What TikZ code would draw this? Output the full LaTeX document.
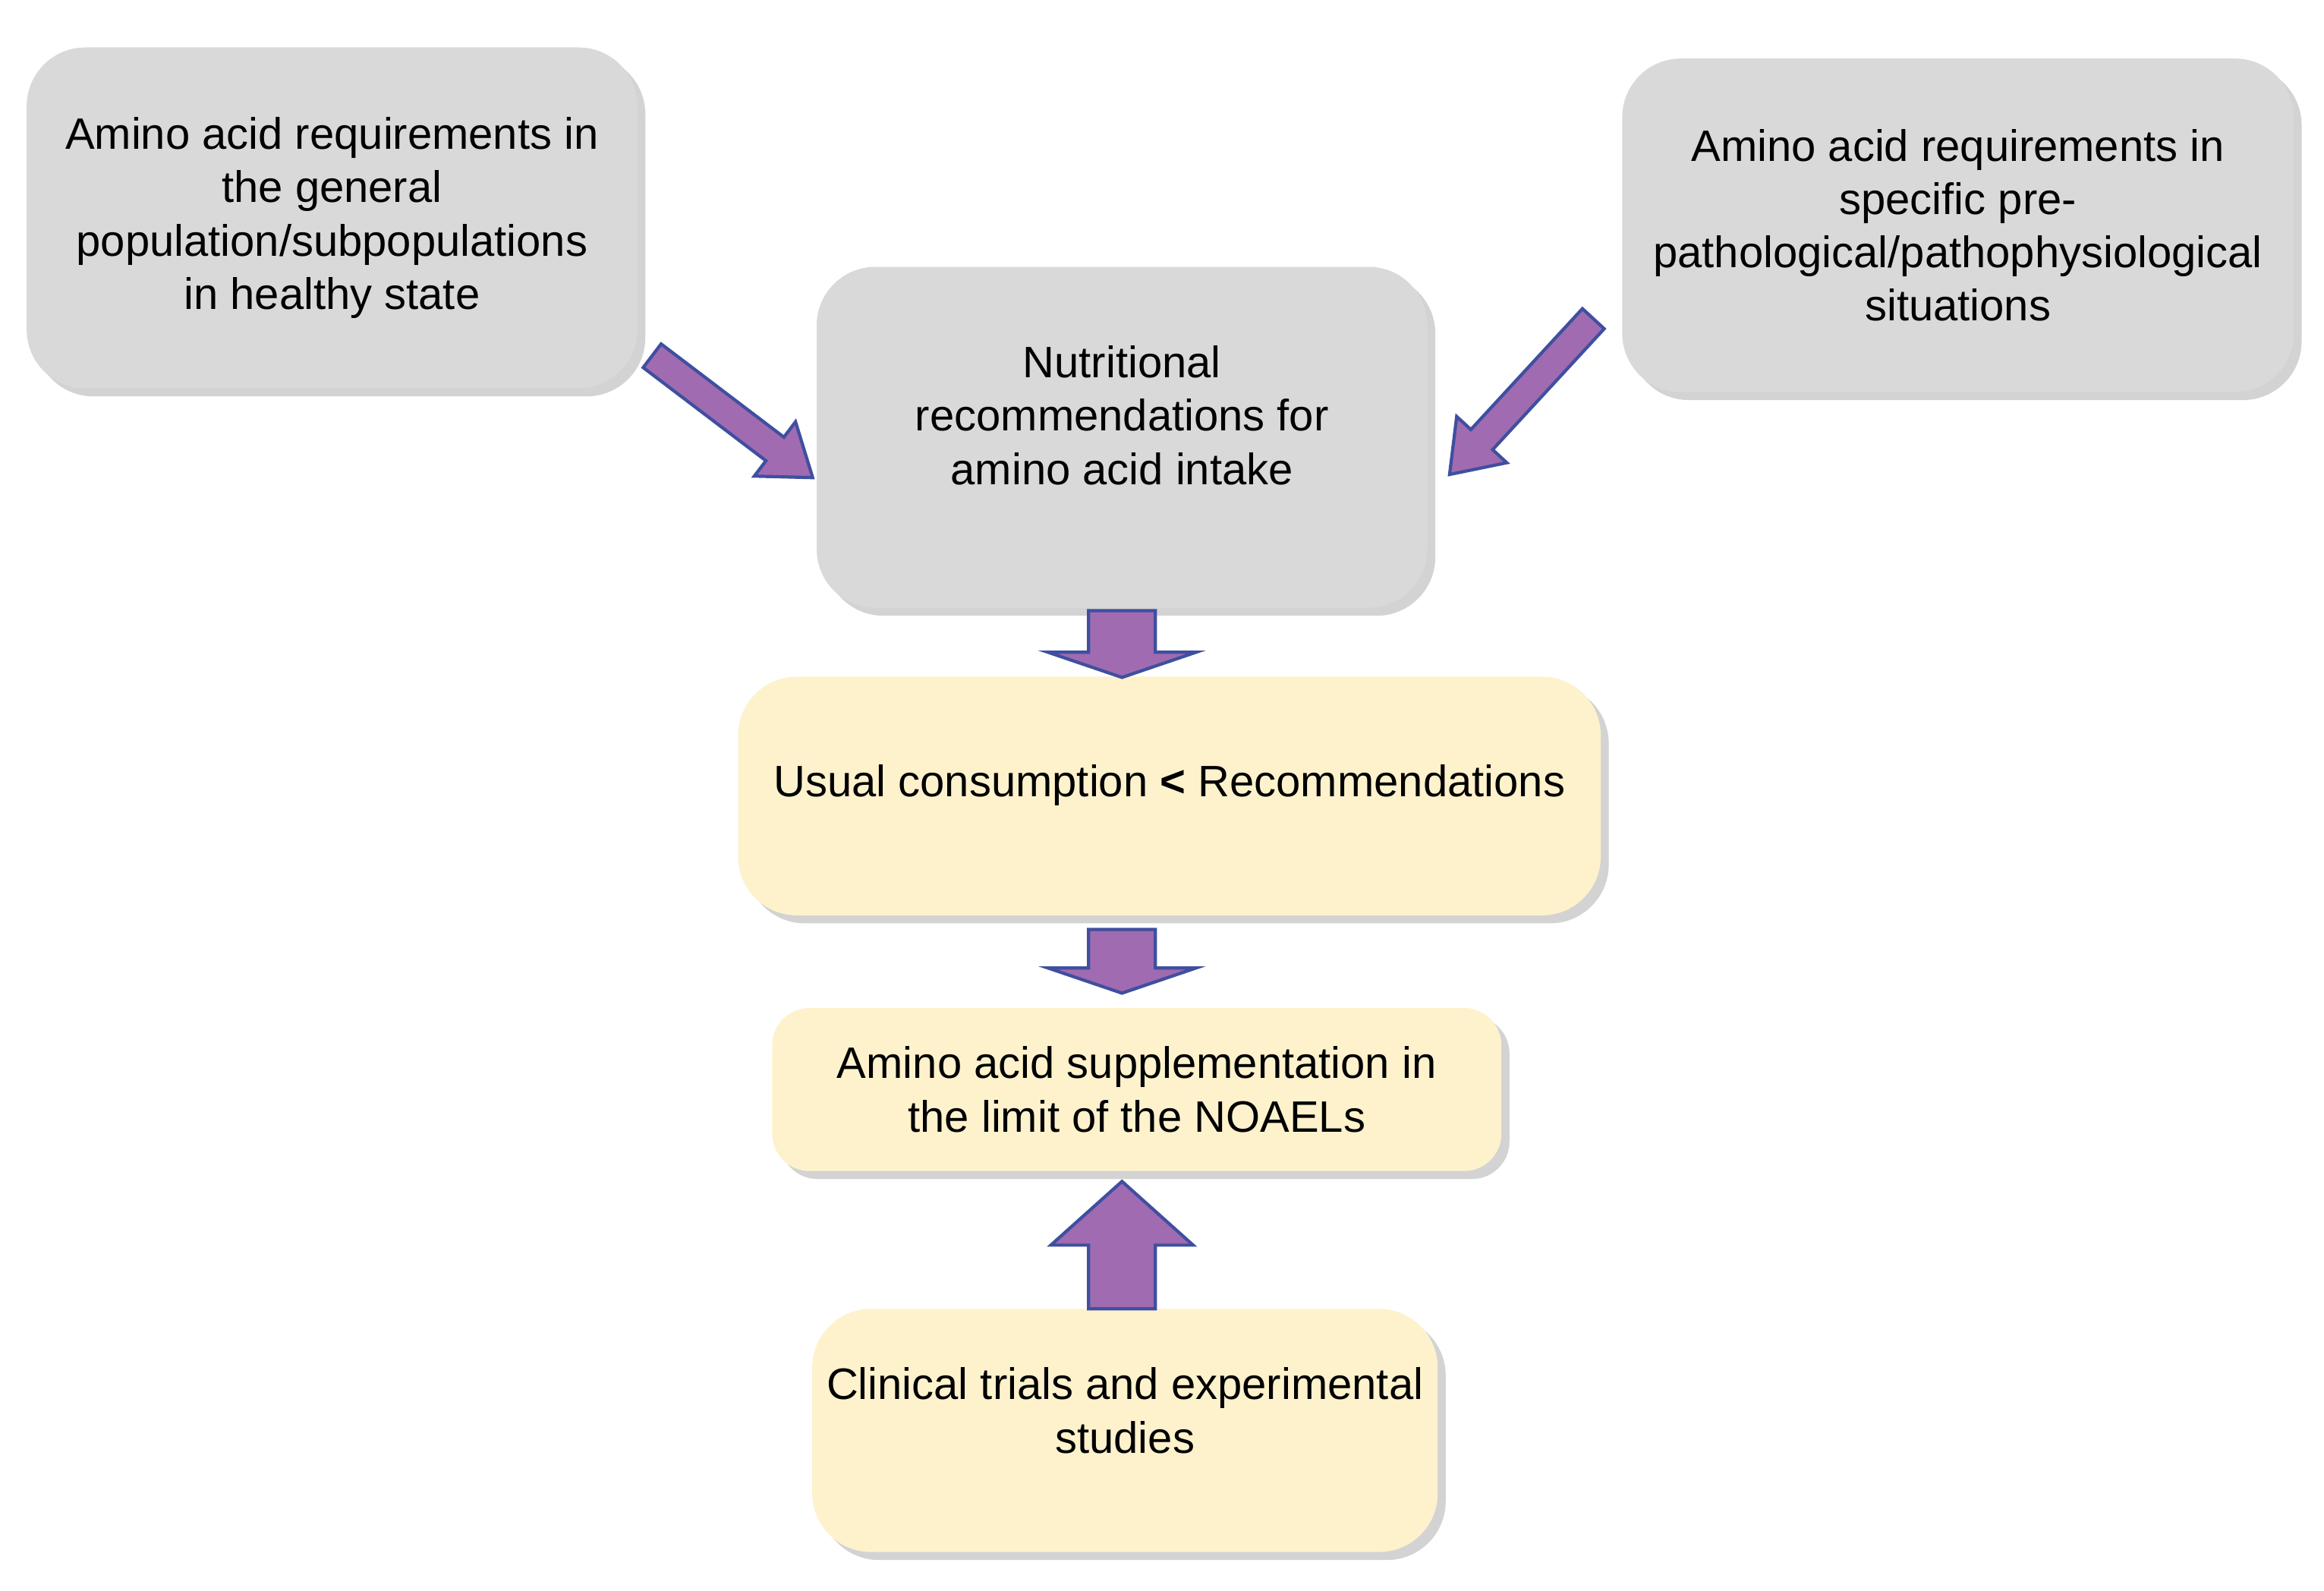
\documentclass[tikz,border=0pt]{standalone}
\usepackage{fontspec}
\setmainfont{Liberation Sans}
\usetikzlibrary{shadows}
\definecolor{gbox}{HTML}{D9D9D9}
\definecolor{ybox}{HTML}{FDF2CC}
\definecolor{arf}{HTML}{A06BB0}
\definecolor{ard}{HTML}{3F4FA0}
\newcommand\barrow[7]{%
\begin{scope}[shift={(#1,#2)},rotate=-#3]
\filldraw[fill=arf,draw=ard,line width=1.2pt] (0,-#5/2) -- (#4-#7,-#5/2) -- (#4-#7,-#6/2) -- (#4,0) -- (#4-#7,#6/2) -- (#4-#7,#5/2) -- (0,#5/2) -- cycle;
\end{scope}}
\begin{document}
\begin{tikzpicture}[x=0.01953cm,y=-0.01953cm,
 box/.style={rounded corners=22pt,drop shadow={shadow xshift=3pt,shadow yshift=-3pt,opacity=0.35},align=center,font=\fontsize{16.5}{20}\selectfont,inner sep=0pt},
 gb/.style={box,fill=gbox},yb/.style={box,fill=ybox}]
\useasboundingbox (0,0) rectangle (1568,1073);
\node[gb,minimum width=412*0.01953cm,minimum height=230*0.01953cm] (a) at (224,147) {Amino acid requirements in\\the general\\population/subpopulations\\in healthy state};
\node[gb,minimum width=453*0.01953cm,minimum height=225*0.01953cm] (b) at (1321,152) {Amino acid requirements in\\specific pre-\\pathological/pathophysiological\\situations};
\node[gb,minimum width=412*0.01953cm,minimum height=230*0.01953cm] (c) at (757,295) {Nutritional\\recommendations for\\amino acid intake\\[-0.2em]};
\node[yb,minimum width=582*0.01953cm,minimum height=161*0.01953cm] (d) at (789,537) {Usual consumption \textbf{<} Recommendations\\[-0.5em]};
\node[yb,minimum width=492*0.01953cm,minimum height=110*0.01953cm,rounded corners=14pt] (e) at (767,735) {Amino acid supplementation in\\the limit of the NOAELs};
\node[yb,minimum width=422*0.01953cm,minimum height=164*0.01953cm] (f) at (759,965) {Clinical trials and experimental\\studies\\[-0.3em]};
\barrow{440}{240}{37.2}{136}{20}{46}{32}
\barrow{1075}{215}{132.7}{143}{20}{46}{32}
\barrow{757}{412}{90}{45}{45}{100}{17}
\barrow{757}{627}{90}{43}{45}{100}{17}
\barrow{757}{883}{-90}{86}{45}{96}{43}
\end{tikzpicture}
\end{document}
